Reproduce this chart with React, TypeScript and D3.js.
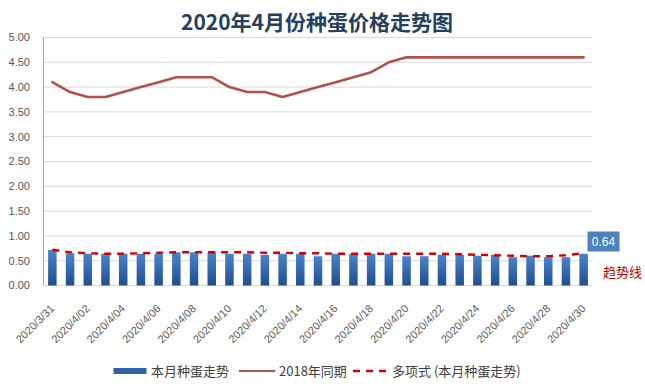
import React from "react";
import * as d3 from "d3";

const dates: string[] = [
  "2020/3/31", "2020/4/01", "2020/4/02", "2020/4/03", "2020/4/04", "2020/4/05", "2020/4/06", "2020/4/07",
  "2020/4/08", "2020/4/09", "2020/4/10", "2020/4/11", "2020/4/12", "2020/4/13", "2020/4/14", "2020/4/15",
  "2020/4/16", "2020/4/17", "2020/4/18", "2020/4/19", "2020/4/20", "2020/4/21", "2020/4/22", "2020/4/23",
  "2020/4/24", "2020/4/25", "2020/4/26", "2020/4/27", "2020/4/28", "2020/4/29", "2020/4/30",
];
const currentMonth: number[] = [
  0.72, 0.65, 0.64, 0.64, 0.64, 0.64, 0.64, 0.67, 0.67, 0.67, 0.64, 0.64, 0.62, 0.64, 0.64, 0.59,
  0.64, 0.64, 0.64, 0.64, 0.59, 0.59, 0.62, 0.62, 0.60, 0.62, 0.57, 0.60, 0.57, 0.57, 0.64,
];
const lastYear2018: number[] = [
  4.1, 3.9, 3.8, 3.8, 3.9, 4.0, 4.1, 4.2, 4.2, 4.2, 4.0, 3.9, 3.9, 3.8, 3.9, 4.0,
  4.1, 4.2, 4.3, 4.5, 4.6, 4.6, 4.6, 4.6, 4.6, 4.6, 4.6, 4.6, 4.6, 4.6, 4.6,
];
const trend: number[] = [
  0.72, 0.67, 0.65, 0.64, 0.64, 0.65, 0.66, 0.67, 0.67, 0.67, 0.67, 0.67, 0.66, 0.66, 0.65, 0.65,
  0.64, 0.64, 0.64, 0.64, 0.64, 0.64, 0.64, 0.63, 0.62, 0.61, 0.60, 0.59, 0.59, 0.61, 0.65,
];
const yTicks: number[] = [0, 0.5, 1, 1.5, 2, 2.5, 3, 3.5, 4, 4.5, 5];
const title = "2020年4月份种蛋价格走势图";
const legendLabels = ["本月种蛋走势", "2018年同期", "多项式 (本月种蛋走势)"];
const trendNote = "趋势线";

const W = 645, H = 389;
const left = 43.5, right = 592.5, top = 37.5, bottom = 285.5;

export default function App() {
  const x = d3.scaleBand<string>().domain(dates).range([left, right]).paddingInner(0.52).paddingOuter(0.26);
  const xc = (d: string) => (x(d) as number) + x.bandwidth() / 2;
  const y = d3.scaleLinear().domain([0, 5]).range([bottom, top]);
  const line = d3.line<number>().x((_, i) => xc(dates[i])).y((v) => y(v));
  const font = "'Liberation Sans', Arial, sans-serif";
  const cjk = "'Noto Sans CJK SC', 'Noto Sans', sans-serif";
  const lastI = dates.length - 1;

  return (
    <svg width={W} height={H} style={{ position: "absolute", left: 0, top: 0, background: "#fff" }}>
      <defs>
        <linearGradient id="barGrad" x1="0" y1="0" x2="0" y2="1">
          <stop offset="0%" stopColor="#4a83cc" />
          <stop offset="100%" stopColor="#1f4f8e" />
        </linearGradient>
      </defs>
      <rect width={W} height={H} fill="#fff" />
      <text x={317} y={30} textAnchor="middle" fontFamily={cjk} fontWeight="bold" fontSize={21} fill="#243f60">{title}</text>
      {yTicks.map((t) => (
        <g key={t}>
          {t > 0 && <line x1={left} x2={right} y1={y(t)} y2={y(t)} stroke="#d9d9d9" strokeWidth={1} />}
          <text x={30} y={y(t)} dy="0.35em" textAnchor="end" fontFamily={font} fontSize={11} fill="#595959">{t.toFixed(2)}</text>
        </g>
      ))}
      <line x1={left} x2={left} y1={top} y2={bottom} stroke="#a6a6a6" />
      <line x1={left} x2={right} y1={bottom} y2={bottom} stroke="#d9d9d9" />
      {currentMonth.map((v, i) => (
        <rect key={i} x={x(dates[i])} y={y(v)} width={x.bandwidth()} height={y(0) - y(v)} fill="url(#barGrad)" />
      ))}
      <path d={line(lastYear2018) || ""} fill="none" stroke="#b3504b" strokeWidth={2.6} strokeLinejoin="round" strokeLinecap="round" />
      <path d={line(trend) || ""} fill="none" stroke="#d40000" strokeWidth={2.4} strokeDasharray="7,6" />
      {dates.map((d, i) => i % 2 === 0 && (
        <text key={d} transform={`translate(${xc(d)},${bottom + 21}) rotate(-45)`} textAnchor="end" dy="0.35em"
          fontFamily={font} fontSize={11} fill="#595959">{d}</text>
      ))}
      <rect x={587.5} y={231.5} width={32} height={20} fill="#4f81bd" />
      <text x={603.5} y={241.5} dy="0.35em" textAnchor="middle" fontFamily={font} fontSize={12} fill="#fff">{currentMonth[lastI].toFixed(2)}</text>
      <text x={603} y={277} fontFamily={cjk} fontSize={13} fill="#c00000">{trendNote}</text>
      <g>
        <rect x={113.5} y={368} width={33} height={6} fill="#2f63a8" />
        <text x={151} y={371} dy="0.35em" fontFamily={cjk} fontSize={13} fill="#404040">{legendLabels[0]}</text>
        <line x1={239} x2={275} y1={371} y2={371} stroke="#b3504b" strokeWidth={2} />
        <text x={279} y={371} dy="0.35em" fontFamily={cjk} fontSize={13} fill="#404040">{legendLabels[1]}</text>
        <line x1={353} x2={389} y1={371} y2={371} stroke="#d40000" strokeWidth={2.4} strokeDasharray="7,6" />
        <text x={392} y={371} dy="0.35em" fontFamily={cjk} fontSize={13} fill="#404040">{legendLabels[2]}</text>
      </g>
    </svg>
  );
}
